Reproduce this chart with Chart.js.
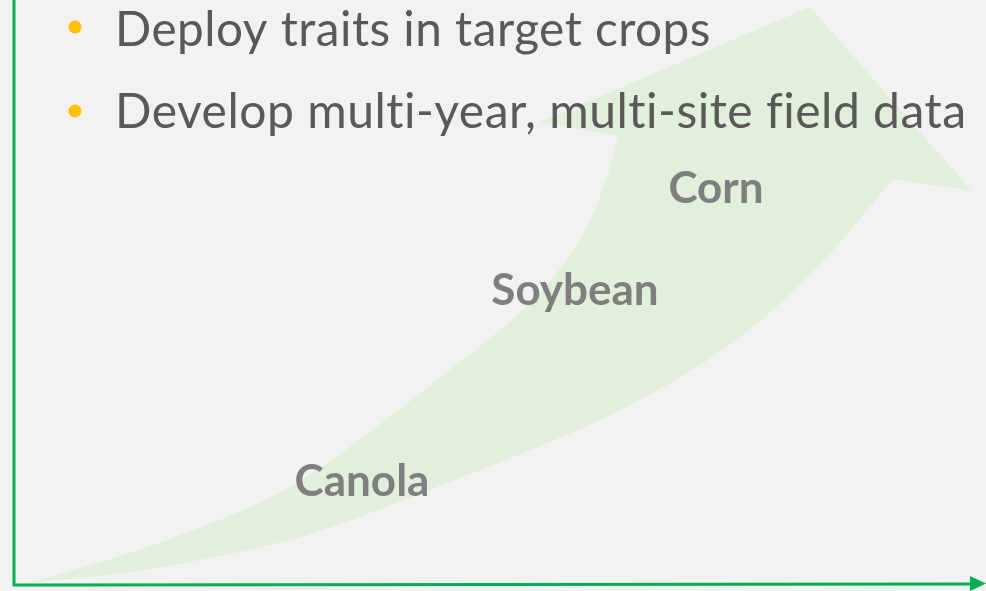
<!DOCTYPE html>
<html>
<head>
<meta charset="utf-8">
<script src="https://cdn.jsdelivr.net/npm/chart.js@4/dist/chart.umd.min.js"></script>
<style>
  html, body { margin: 0; padding: 0; background: #f2f2f2; }
  #wrap { width: 986px; height: 591px; position: relative; }
</style>
</head>
<body>
<div id="wrap"><canvas id="myChart"></canvas></div>
<script>
// bullet text at the top
const bullets = ["Deploy traits in target crops", "Develop multi-year, multi-site field data"];

// crop labels placed along the arrow
const cropNames = ["Canola", "Soybean", "Corn"];
const cropX = [362, 575, 716];
const cropY = [496, 305, 203];

// arrow outline: left edge up, head (corners doubled so they stay sharp), right edge down
const arrowX = [30, 150, 290, 450, 530, 580, 606, 618, 618, 540, 540, 810, 810, 972, 972, 893, 893, 833, 767, 700, 600, 450, 300, 150, 30];
const arrowY = [583, 546, 487, 370, 303, 240, 180, 136, 136, 122, 122, 7, 7, 191, 191, 179, 179, 250, 315, 365, 420, 482, 537, 569, 583];

const green = "#00b050";
const arrowFill = "#e2efda";

const pts = (xs, ys) => xs.map((x, i) => ({ x: x, y: ys[i] }));

// axes drawn in scale coordinates
const axesPlugin = {
  id: "axes",
  afterDatasetsDraw(chart) {
    const { ctx, scales: { x, y } } = chart;
    ctx.save();
    ctx.strokeStyle = green;
    ctx.lineWidth = 3;
    ctx.beginPath();
    ctx.moveTo(x.getPixelForValue(14), y.getPixelForValue(0));
    ctx.lineTo(x.getPixelForValue(14), y.getPixelForValue(585));
    ctx.lineTo(x.getPixelForValue(972), y.getPixelForValue(584));
    ctx.stroke();
    ctx.fillStyle = green;
    ctx.beginPath();
    ctx.moveTo(x.getPixelForValue(970), y.getPixelForValue(576));
    ctx.lineTo(x.getPixelForValue(986), y.getPixelForValue(583.5));
    ctx.lineTo(x.getPixelForValue(970), y.getPixelForValue(591));
    ctx.closePath();
    ctx.fill();
    ctx.restore();
  },
};

// crop labels and bullet list
const textPlugin = {
  id: "texts",
  afterDatasetsDraw(chart) {
    const { ctx, scales: { x, y } } = chart;
    ctx.save();
    ctx.textBaseline = "alphabetic";
    ctx.fillStyle = "#7f7f7f";
    ctx.font = "bold 44px Lato";
    ctx.textAlign = "center";
    cropNames.forEach((name, i) => {
      ctx.fillText(name, x.getPixelForValue(cropX[i]), y.getPixelForValue(cropY[i]));
    });

    ctx.textAlign = "left";
    ctx.letterSpacing = "0.5px";
    const widths = [597, 853];
    const base = [46, 128];
    const dotY = [27, 111];
    bullets.forEach((t, i) => {
      ctx.font = "44px Lato";
      const w = ctx.measureText(t).width;
      const size = 44 * widths[i] / w;
      ctx.font = size.toFixed(1) + "px Lato";
      ctx.fillStyle = "#595959";
      ctx.fillText(t, x.getPixelForValue(115), y.getPixelForValue(base[i]));
      ctx.fillStyle = "#ffc000";
      ctx.beginPath();
      ctx.arc(x.getPixelForValue(75), y.getPixelForValue(dotY[i]), 6.5, 0, Math.PI * 2);
      ctx.fill();
    });
    ctx.restore();
  },
};

const config = {
  type: "line",
  data: {
    datasets: [
      {
        data: pts(arrowX, arrowY),
        borderWidth: 0,
        borderColor: arrowFill,
        backgroundColor: arrowFill,
        pointRadius: 0,
        tension: 0.3,
        fill: "shape",
      },
    ],
  },
  options: {
    responsive: true,
    maintainAspectRatio: false,
    animation: false,
    layout: { padding: 0 },
    plugins: { legend: { display: false }, tooltip: { enabled: false } },
    scales: {
      x: { type: "linear", min: 0, max: 986, display: false },
      y: { type: "linear", min: 0, max: 591, reverse: true, display: false },
    },
  },
  plugins: [axesPlugin, textPlugin],
};

let myChart = new Chart(document.getElementById("myChart"), config);
</script>
</body>
</html>
